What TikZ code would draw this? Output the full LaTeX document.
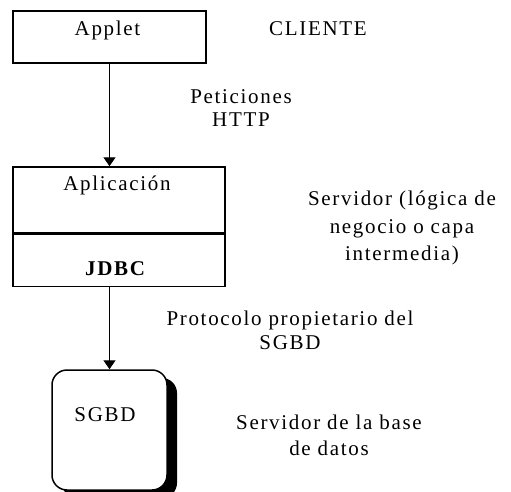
\documentclass[tikz,border=0pt]{standalone}
\usepackage{fontspec}
\setmainfont{Liberation Serif}[LetterSpace=8]
\usepackage{tikz}
\usetikzlibrary{positioning, arrows.meta, shadows}
\tikzstyle{diagrama} = [x = 1pt, y = -1pt]
\tikzstyle{textoStyle} = [font=\fontsize{21}{25}\selectfont, align=center, inner sep=0pt]
\tikzstyle{cajaStyle} = [draw, line width=1.5pt, rectangle, inner sep=0pt, label distance=0pt]
\tikzstyle{cajaLabel} = [font=\fontsize{21}{25}\selectfont, inner sep=0pt, anchor=base]
\tikzstyle{sgbdStyle} = [cajaStyle, fill=white, rounded corners=15pt,
  drop shadow={shadow xshift=10pt, shadow yshift=-8pt, fill=black, opacity=1}]
\tikzstyle{flecha} = [line width=1.4pt, -{Triangle[length=9pt, width=12pt]}]

\begin{document}
\begin{tikzpicture}[diagrama]
          \useasboundingbox (0,0) rectangle (511,492);
          \node [cajaStyle, minimum width=193pt, minimum height=52pt,
            label={[cajaLabel, yshift=-25.5pt, xshift=-2pt]north:Applet}] (applet) at (109.5,37) {};
          \node [cajaStyle, minimum width=212pt, minimum height=66pt,
            label={[cajaLabel, yshift=-24pt, xshift=-2pt]north:Aplicación}] (aplicacion) at (119,200) {};
          \node [cajaStyle, minimum width=212pt, minimum height=52pt, below=0pt of aplicacion,
            label={[cajaLabel, yshift=11.5pt, xshift=-3pt]south:\textbf{JDBC}}] (jdbc) {};
          \node [sgbdStyle, minimum width=115pt, minimum height=120pt,
            label={[cajaLabel, yshift=-52.5pt, xshift=-4.5pt]north:SGBD}] (sgbd) at (109.5,430) {};

          \node [textoStyle] (cliente) at (318,29) {CLIENTE};
          \node [textoStyle, font=\fontsize{21}{23}\selectfont] (peticiones) at (241,108.5) {Peticiones\\HTTP};
          \node [textoStyle, font=\fontsize{21}{27.5}\selectfont] (servidor) at (402,228) {Servidor (lógica de\\negocio o capa\\intermedia)};
          \node [textoStyle, font=\fontsize{21}{24}\selectfont] (protocolo) at (290,330) {Protocolo propietario del\\SGBD};
          \node [textoStyle, font=\fontsize{21}{26}\selectfont] (servidorBD) at (329,435) {Servidor de la base\\de datos};

          \draw [flecha] (applet.south) -- (applet.south |- aplicacion.north);
          \draw [flecha] (sgbd.north |- jdbc.south) -- (sgbd.north);
        \end{tikzpicture}
\end{document}
